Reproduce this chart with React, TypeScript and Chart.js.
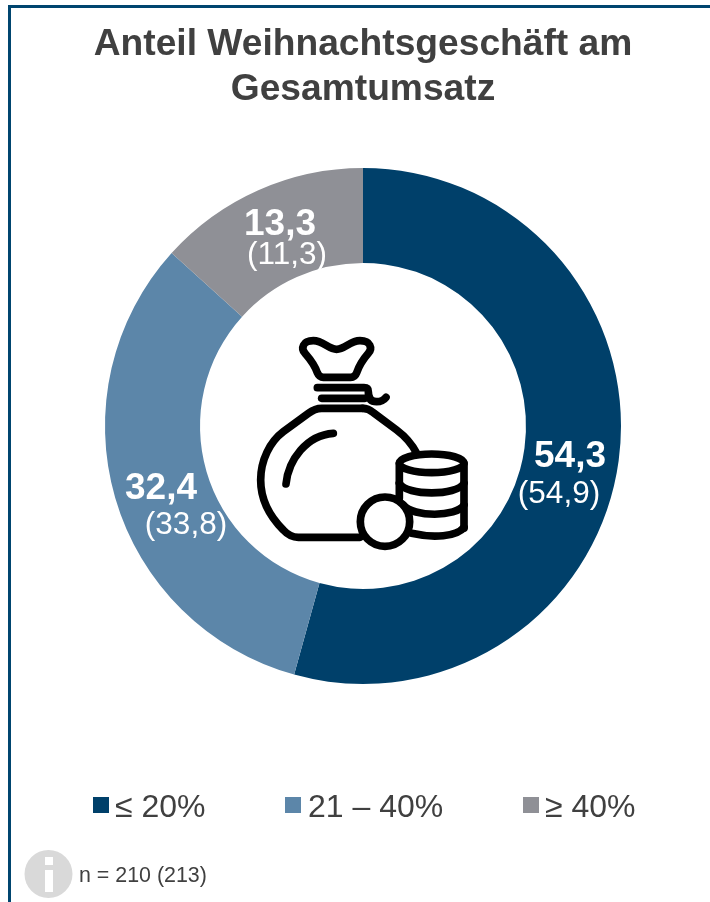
import React, { useEffect, useRef } from "react";
import { Chart, registerables } from "chart.js";

Chart.register(...registerables);

const titleLines = ["Anteil Weihnachtsgeschäft am", "Gesamtumsatz"];
const categories = ["≤ 20%", "21 – 40%", "≥ 40%"];
const currentValues = [54.3, 32.4, 13.3];
const previousValues = [54.9, 33.8, 11.3];
const sampleNote = "n = 210 (213)";
const colors = ["#00406A", "#5C86A9", "#8F9096"];
const TEXT = "#404040";
const FONT = '"Liberation Sans", Arial, sans-serif';

const labelPositions = [
  { cur: [570, 457], prev: [559, 494] },
  { cur: [161, 489], prev: [186, 525] },
  { cur: [280, 225], prev: [287, 255] },
];
const legendPositions = [
  { box: 93, text: 115 },
  { box: 285, text: 308 },
  { box: 523, text: 545 },
];

const fmt = (v: number) => v.toFixed(1).replace(".", ",");

const decorPlugin = {
  id: "decor",
  afterDatasetsDraw(chart: any) {
    const ctx: CanvasRenderingContext2D = chart.ctx;
    ctx.save();
    // slice labels
    ctx.fillStyle = "#fff";
    ctx.textAlign = "center";
    ctx.textBaseline = "middle";
    currentValues.forEach((v, i) => {
      const p = labelPositions[i];
      ctx.font = `bold 37px ${FONT}`;
      ctx.fillText(fmt(v), p.cur[0], p.cur[1]);
      ctx.font = `31.5px ${FONT}`;
      ctx.fillText(`(${fmt(previousValues[i])})`, p.prev[0], p.prev[1]);
    });

    // legend
    ctx.textAlign = "left";
    ctx.textBaseline = "alphabetic";
    ctx.font = `32px ${FONT}`;
    categories.forEach((c, i) => {
      const p = legendPositions[i];
      ctx.fillStyle = colors[i];
      ctx.fillRect(p.box, 797, 16, 16);
      ctx.fillStyle = TEXT;
      ctx.fillText(c, p.text, 817);
    });

    // info badge + n
    ctx.fillStyle = "#D9D9D9";
    ctx.beginPath();
    ctx.arc(48.5, 874, 24, 0, Math.PI * 2);
    ctx.fill();
    ctx.fillStyle = "#fff";
    ctx.fillRect(45, 857, 8, 8);
    ctx.fillRect(45, 870, 8, 22);
    ctx.fillStyle = TEXT;
    ctx.font = `21.4px ${FONT}`;
    ctx.fillText(sampleNote, 79, 882);

    // money bag icon
    ctx.translate(240, 320);
    ctx.scale(1 / 3, 1 / 3);
    ctx.strokeStyle = "#000";
    ctx.lineWidth = 23;
    ctx.lineCap = "round";
    ctx.lineJoin = "round";
    const paths = [
      "M250 172 L332 172 Q345 172 350 158 C360 130 372 115 385 100 C398 85 392 62 360 62 C330 62 315 88 290 88 C265 88 250 62 220 62 C188 62 182 85 195 100 C208 115 222 130 232 158 Q238 172 250 172 Z",
      "M232 203 L372 203 Q385 203 385 215 Q385 245 410 245 Q428 245 438 232",
      "M245 235 L375 235",
      "M368 265 L245 265 Q225 265 205 280 L130 335 C90 365 62 420 62 480 C62 540 90 590 130 630 Q150 652 175 652 L360 652",
      "M368 265 Q385 265 400 278 L470 330 Q510 360 530 400",
      "M138 492 C145 420 200 345 280 340",
      "M478 430 L478 535 M672 430 L672 625",
      "M478 490 C500 528 650 528 672 490",
      "M490 555 C520 592 650 592 672 555",
      "M515 640 C580 655 650 650 672 622",
    ];
    paths.forEach((d) => ctx.stroke(new Path2D(d)));
    ctx.beginPath();
    ctx.ellipse(575, 430, 97, 28, 0, 0, Math.PI * 2);
    ctx.stroke();
    ctx.beginPath();
    ctx.arc(435, 605, 74, 0, Math.PI * 2);
    ctx.fillStyle = "#fff";
    ctx.fill();
    ctx.stroke();
    ctx.restore();
  },
};

export default function App() {
  const ref = useRef<HTMLCanvasElement>(null);
  useEffect(() => {
    const chart = new Chart(ref.current!, {
      type: "doughnut",
      data: {
        labels: categories,
        datasets: [
          {
            data: currentValues,
            backgroundColor: colors,
            borderWidth: 0,
            radius: 258,
            cutout: 163,
          } as any,
        ],
      },
      options: {
        responsive: false,
        animation: false,
        layout: { padding: { left: 16, bottom: 218 } },
        plugins: {
          legend: { display: false },
          tooltip: { enabled: false },
          title: {
            display: true,
            text: titleLines,
            color: TEXT,
            font: { family: FONT, size: 37.2, weight: "bold", lineHeight: 1.22 },
            padding: { top: 22, bottom: 55.2 },
          },
        },
      },
      plugins: [decorPlugin],
    });
    return () => chart.destroy();
  }, []);
  return (
    <div style={{ position: "fixed", inset: 0, overflow: "hidden", background: "#fff" }}>
      <canvas ref={ref} width={710} height={902} style={{ position: "absolute", left: 0, top: 0, display: "block" }} />
      <div
        style={{
          position: "absolute",
          left: 8,
          top: 5,
          width: 800,
          height: 1000,
          borderLeft: "3px solid #00456F",
          borderTop: "3px solid #00456F",
          pointerEvents: "none",
        }}
      />
    </div>
  );
}
